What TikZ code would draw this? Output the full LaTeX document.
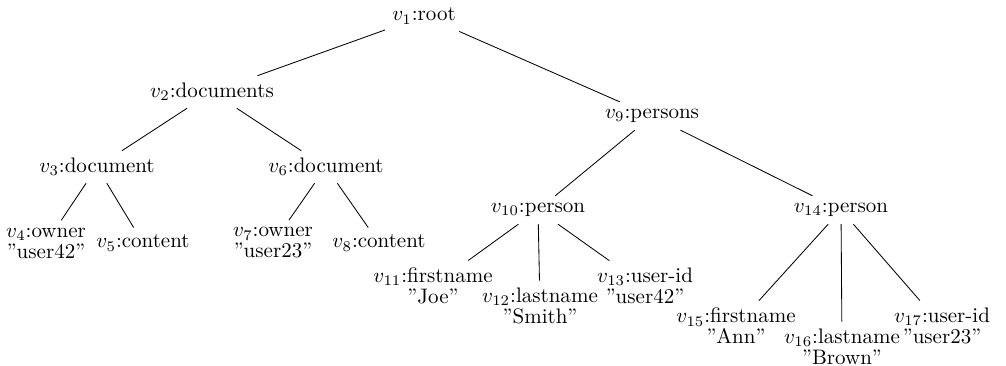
\documentclass[tikz,border=0pt]{standalone}
\begin{document}
\begin{tikzpicture}[x=0.476pt,y=-0.476pt,
  tn/.style={inner sep=3.33pt,align=center,font=\fontsize{10}{10}\selectfont},
  every path/.style={line width=0.4pt}]
\useasboundingbox (0,0) rectangle (1006,366);
% nodes (positions in a 1006 x 366 grid, y growing downwards)
\node[tn] (v1)  at (424,16)  {$v_1$:root};
\node[tn] (v2)  at (212,92)  {$v_2$:documents};
\node[tn] (v9)  at (652,116) {$v_9$:persons};
\node[tn] (v3)  at (97,167)  {$v_3$:document};
\node[tn] (v6)  at (326,167) {$v_6$:document};
\node[tn] (v4)  at (46,243)  {$v_4$:owner\\”user42”};
\node[tn] (v5)  at (143,243) {$v_5$:content};
\node[tn] (v7)  at (273,243) {$v_7$:owner\\”user23”};
\node[tn] (v8)  at (379,243) {$v_8$:content};
\node[tn] (v10) at (538,210) {$v_{10}$:person};
\node[tn] (v11) at (433,286) {$v_{11}$:firstname\\”Joe”};
\node[tn] (v12) at (540,306) {$v_{12}$:lastname\\”Smith”};
\node[tn] (v13) at (645,286) {$v_{13}$:user-id\\”user42”};
\node[tn] (v14) at (841,210) {$v_{14}$:person};
\node[tn] (v15) at (736,326) {$v_{15}$:firstname\\”Ann”};
\node[tn] (v16) at (842,347) {$v_{16}$:lastname\\”Brown”};
\node[tn] (v17) at (942,326) {$v_{17}$:user-id\\”user23”};
% edges
\draw (v1) -- (v2);
\draw (v1) -- (v9);
\draw (v2) -- (v3);
\draw (v2) -- (v6);
\draw (v3) -- (v4);
\draw (v3) -- (v5);
\draw (v6) -- (v7);
\draw (v6) -- (v8);
\draw (v9) -- (v10);
\draw (v9) -- (v14);
\draw (v10) -- (v11);
\draw (v10) -- (v12);
\draw (v10) -- (v13);
\draw (v14) -- (v15);
\draw (v14) -- (v16);
\draw (v14) -- (v17);
\end{tikzpicture}
\end{document}
